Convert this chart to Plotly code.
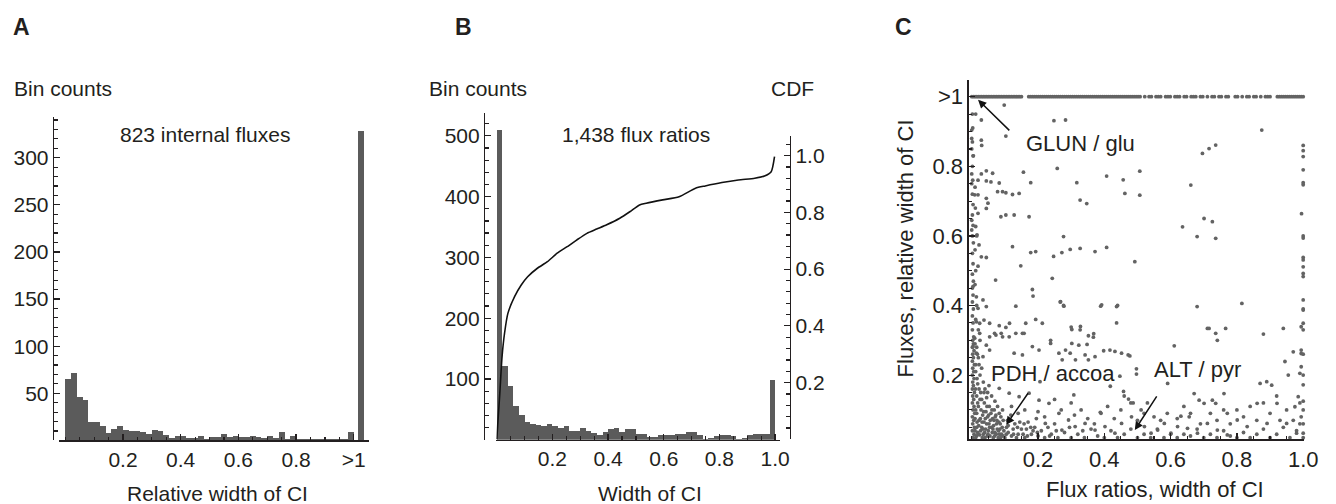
import plotly.graph_objects as go

# ---------------- DATA ----------------
# Panel A: histogram of relative CI widths (bins of 0.02 from 0 to 1) + ">1" bin
A_bin_centers = [round(0.01 + 0.02 * i, 3) for i in range(50)]
A_counts = [65, 71, 46, 43, 20, 20, 15, 8, 12, 15,
            11, 10, 10, 9, 7, 11, 10, 6, 3, 5,
            5, 3, 3, 5, 1, 4, 4, 7, 4, 5,
            4, 4, 5, 4, 3, 5, 3, 9, 1, 5,
            1, 2, 2, 2, 1, 1, 2, 2, 1, 9]
A_over_x = 1.025
A_over_count = 328
A_xticks = [0.2, 0.4, 0.6, 0.8, 1.0]
A_xticktext = ["0.2", "0.4", "0.6", "0.8", ">1"]
A_yticks = [50, 100, 150, 200, 250, 300]

# Panel B: histogram of flux-ratio CI widths + CDF
B_bin_centers = [round(0.01 + 0.02 * i, 3) for i in range(50)]
B_counts = [509, 122, 88, 56, 40, 30, 26, 25, 23, 26,
            22, 20, 22, 15, 15, 20, 14, 11, 8, 12,
            18, 20, 12, 18, 18, 10, 10, 4, 4, 7,
            7, 7, 10, 10, 13, 13, 8, 1, 3, 6,
            7, 8, 6, 2, 3, 8, 10, 10, 10, 98]
B_cdf_x = [0.0, 0.011, 0.019, 0.028, 0.040, 0.064, 0.088, 0.111, 0.146, 0.182,
           0.217, 0.253, 0.288, 0.324, 0.359, 0.395, 0.442, 0.478, 0.513, 0.537,
           0.596, 0.655, 0.714, 0.749, 0.809, 0.868, 0.927, 0.962, 0.986, 0.998]
B_cdf_y = [0.0, 0.163, 0.291, 0.374, 0.444, 0.503, 0.544, 0.573, 0.603, 0.626,
           0.656, 0.679, 0.703, 0.726, 0.741, 0.756, 0.779, 0.802, 0.826, 0.832,
           0.844, 0.855, 0.885, 0.893, 0.905, 0.914, 0.920, 0.928, 0.943, 0.996]
B_xticks = [0.2, 0.4, 0.6, 0.8, 1.0]
B_xticktext = ["0.2", "0.4", "0.6", "0.8", "1.0"]
B_yticks = [100, 200, 300, 400, 500]
B_cdfticks = [0.2, 0.4, 0.6, 0.8, 1.0]
B_cdfticktext = ["0.2", "0.4", "0.6", "0.8", "1.0"]

# Panel C: scatter of flux-ratio CI width (x) vs flux relative CI width (y)
C_top_value = 1.0  # ">1" row
C_top_x = [0.0, 0.005, 0.01, 0.015, 0.02, 0.025, 0.03, 0.035, 0.04, 0.045, 0.05, 0.055,
           0.06, 0.065, 0.07, 0.075, 0.08, 0.085, 0.09, 0.095, 0.1, 0.105, 0.11, 0.115,
           0.12, 0.125, 0.13, 0.135, 0.14, 0.145, 0.15,
           0.172, 0.178, 0.184, 0.19, 0.196, 0.202, 0.208, 0.214, 0.22, 0.226, 0.232,
           0.238, 0.244, 0.25, 0.256, 0.262, 0.268, 0.274, 0.28, 0.286, 0.292, 0.298,
           0.304, 0.31, 0.316, 0.322, 0.328, 0.334, 0.34, 0.346, 0.352, 0.358, 0.364,
           0.37, 0.376, 0.382, 0.388, 0.394, 0.4, 0.406, 0.412, 0.418, 0.424, 0.43,
           0.436, 0.442, 0.448, 0.454, 0.46, 0.466, 0.472, 0.478, 0.484, 0.49, 0.496,
           0.502, 0.508,
           0.522, 0.535, 0.542, 0.556, 0.563, 0.57, 0.585, 0.592, 0.599, 0.613, 0.62,
           0.627, 0.641, 0.648, 0.662, 0.669, 0.676, 0.69, 0.697, 0.711, 0.725, 0.732,
           0.746, 0.753, 0.767, 0.774, 0.795, 0.802, 0.816, 0.83, 0.837, 0.851, 0.858,
           0.872, 0.886, 0.893, 0.9,
           0.922, 0.928, 0.934, 0.94, 0.946, 0.952, 0.958, 0.964, 0.97, 0.976, 0.982,
           0.988, 0.994, 1.0]
C_points = [
    # upper region
    (0.098, 0.976), (0.029, 0.933), (0.0, 0.904), (0.103, 0.887), (0.029, 0.875),
    (0.0, 0.85), (0.03, 0.86), (0.248, 0.931), (0.283, 0.933), (0.875, 0.904),
    (0.696, 0.837), (0.716, 0.851), (0.736, 0.861), (1.0, 0.86), (1.0, 0.845),
    (1.0, 0.828), (0.0, 0.88), (0.005, 0.83), (0.012, 0.95),
    # 0.6 - 0.8
    (0.258, 0.794), (0.044, 0.787), (0.063, 0.78), (0.029, 0.778), (0.156, 0.783),
    (0.407, 0.772), (0.457, 0.761), (0.507, 0.786), (0.0, 0.778), (0.0, 0.75),
    (0.019, 0.76), (0.044, 0.758), (0.058, 0.755), (0.083, 0.752), (0.178, 0.753),
    (0.317, 0.753), (0.462, 0.722), (0.507, 0.717), (0.661, 0.746), (0.009, 0.718),
    (0.019, 0.718), (0.044, 0.708), (0.049, 0.694), (0.078, 0.727), (0.093, 0.727),
    (0.103, 0.724), (0.123, 0.719), (0.143, 0.722), (0.327, 0.703), (0.347, 0.693),
    (1.0, 0.79), (1.0, 0.753), (1.0, 0.747), (0.019, 0.665), (0.044, 0.679),
    (0.088, 0.655), (0.103, 0.66), (0.128, 0.66), (0.173, 0.655), (0.0, 0.645),
    (0.0, 0.617), (0.701, 0.65), (0.726, 0.641), (0.68, 0.598), (0.736, 0.593),
    (0.636, 0.626), (0.995, 0.664), (1.0, 0.6), (1.0, 0.594), (0.277, 0.598),
    (0.297, 0.561), (0.272, 0.552), (0.247, 0.541), (0.327, 0.564), (0.372, 0.555),
    (0.407, 0.567), (0.178, 0.552), (0.193, 0.555), (0.123, 0.569), (0.148, 0.514),
    (0.022, 0.574), (0.029, 0.54), (0.044, 0.538), (0.016, 0.603), (0.012, 0.627),
    (0.492, 0.526), (1.0, 0.538), (1.0, 0.531), (1.0, 0.511), (1.0, 0.492), (1.0, 0.483),
    # 0.3 - 0.5
    (0.072, 0.473), (0.019, 0.513), (0.004, 0.455), (0.014, 0.425), (0.019, 0.392),
    (0.034, 0.416), (0.044, 0.397), (0.183, 0.446), (0.185, 0.427), (0.243, 0.478),
    (0.268, 0.411), (0.278, 0.398), (0.133, 0.398), (0.389, 0.398), (0.437, 0.397),
    (0.68, 0.397), (0.815, 0.406), (1.0, 0.416), (1.0, 0.387), (1.0, 0.349),
    (1.0, 0.33), (0.014, 0.353), (0.024, 0.349), (0.037, 0.358), (0.054, 0.349),
    (0.083, 0.342), (0.103, 0.337), (0.133, 0.32), (0.153, 0.32), (0.163, 0.349),
    (0.193, 0.36), (0.213, 0.349), (0.114, 0.349), (0.238, 0.30), (0.302, 0.331),
    (0.327, 0.33), (0.352, 0.313), (0.367, 0.309), (0.437, 0.35), (0.302, 0.291),
    (0.711, 0.334), (0.716, 0.334), (0.736, 0.32), (0.741, 0.3), (0.766, 0.334),
    (0.88, 0.318), (0.94, 0.334), (0.994, 0.339), (0.611, 0.284), (0.267, 0.41),
    (0.277, 0.40), (0.392, 0.402), (0.44, 0.40), (0.069, 0.32), (0.089, 0.32),
    (0.113, 0.31), (0.158, 0.32), (0.3, 0.338), (0.328, 0.34), (0.368, 0.319),
    (0.323, 0.286), (0.348, 0.288), (0.398, 0.27),
    # 0.2 - 0.3
    (0.054, 0.31), (0.073, 0.315), (0.093, 0.31), (0.054, 0.272), (0.044, 0.286),
    (0.024, 0.32), (0.009, 0.306), (0.004, 0.282), (0.014, 0.263), (0.034, 0.253),
    (0.128, 0.263), (0.153, 0.258), (0.183, 0.282), (0.203, 0.272), (0.238, 0.291),
    (0.263, 0.263), (0.273, 0.244), (0.283, 0.272), (0.297, 0.263), (0.313, 0.244),
    (0.342, 0.258), (0.352, 0.244), (0.372, 0.253), (0.417, 0.272), (0.432, 0.268),
    (0.452, 0.263), (0.472, 0.258), (0.477, 0.255), (0.497, 0.203), (0.447, 0.197),
    (0.87, 0.176), (0.89, 0.181), (0.905, 0.171), (0.945, 0.239), (0.955, 0.2),
    (0.97, 0.267), (0.994, 0.272), (0.994, 0.262), (0.994, 0.224), (0.99, 0.205),
    (1.0, 0.172), (0.591, 0.176), (0.671, 0.147), (0.686, 0.128), (0.701, 0.119),
    (0.726, 0.128), (0.736, 0.119), (0.761, 0.147), (0.771, 0.09), (0.631, 0.082),
    (0.656, 0.08), (0.497, 0.218), (0.206, 0.181), (0.308, 0.143), (0.418, 0.168),
    (0.458, 0.153), (0.473, 0.131), (0.487, 0.12), (0.388, 0.093),
    # lower band 0 - 0.2
    (0.083, 0.162), (0.113, 0.148), (0.143, 0.138), (0.173, 0.148), (0.203, 0.128),
    (0.233, 0.119), (0.263, 0.09), (0.292, 0.071), (0.222, 0.061), (0.272, 0.042),
    (0.312, 0.052), (0.342, 0.061), (0.372, 0.042), (0.402, 0.052), (0.432, 0.033),
    (0.452, 0.061), (0.482, 0.08), (0.511, 0.1), (0.521, 0.052), (0.541, 0.033),
    (0.561, 0.042), (0.581, 0.061), (0.601, 0.033), (0.621, 0.052), (0.651, 0.047),
    (0.681, 0.033), (0.711, 0.061), (0.741, 0.042), (0.771, 0.028), (0.801, 0.071),
    (0.831, 0.052), (0.861, 0.119), (0.891, 0.061), (0.921, 0.119), (0.95, 0.061),
    (0.98, 0.033), (0.994, 0.08), (1.0, 0.033), (0.975, 0.109), (0.985, 0.138),
    (0.12, 0.11), (0.14, 0.09), (0.16, 0.1), (0.2, 0.095), (0.22, 0.08),
    (0.25, 0.13), (0.27, 0.1), (0.3, 0.12), (0.31, 0.085), (0.33, 0.1),
    (0.35, 0.075), (0.37, 0.06), (0.39, 0.09), (0.41, 0.11), (0.43, 0.075),
    (0.45, 0.1), (0.46, 0.14), (0.48, 0.12), (0.5, 0.07), (0.52, 0.09),
    (0.53, 0.12), (0.55, 0.08), (0.57, 0.07), (0.59, 0.09), (0.62, 0.075),
    (0.64, 0.11), (0.66, 0.09), (0.69, 0.06), (0.72, 0.09), (0.74, 0.07),
    (0.76, 0.1), (0.78, 0.06), (0.8, 0.1), (0.82, 0.08), (0.84, 0.11),
    (0.86, 0.07), (0.88, 0.12), (0.9, 0.09), (0.92, 0.14), (0.93, 0.07),
    (0.95, 0.1), (0.97, 0.07), (1.0, 0.02), (1.0, 0.06), (1.0, 0.1),
    (1.0, 0.125), (0.99, 0.12), (1.0, 0.2), (1.0, 0.26), (1.0, 0.39),
    # dense column near x = 0
    (0.003, 0.02), (0.007, 0.03), (0.002, 0.04), (0.008, 0.05), (0.003, 0.06),
    (0.006, 0.07), (0.002, 0.08), (0.009, 0.09), (0.004, 0.10), (0.007, 0.11),
    (0.002, 0.12), (0.006, 0.13), (0.003, 0.14), (0.008, 0.15), (0.002, 0.16),
    (0.005, 0.17), (0.003, 0.18), (0.007, 0.19), (0.002, 0.20), (0.006, 0.21),
    (0.003, 0.22), (0.008, 0.23), (0.002, 0.24), (0.005, 0.25), (0.003, 0.26),
    (0.007, 0.27), (0.002, 0.28), (0.005, 0.29), (0.003, 0.30), (0.006, 0.31),
    (0.002, 0.33), (0.004, 0.35), (0.002, 0.37), (0.005, 0.39), (0.002, 0.41),
    (0.004, 0.43), (0.002, 0.45), (0.005, 0.47), (0.002, 0.49), (0.004, 0.52),
    (0.002, 0.55), (0.005, 0.58), (0.002, 0.60), (0.004, 0.63), (0.002, 0.66),
    (0.004, 0.69), (0.002, 0.72), (0.003, 0.76), (0.002, 0.80), (0.004, 0.83),
    (0.002, 0.87), (0.003, 0.91), (0.002, 0.95),
    (0.01, 0.04), (0.01, 0.075), (0.012, 0.1), (0.018, 0.12), (0.025, 0.13),
    (0.011, 0.16), (0.018, 0.175), (0.027, 0.15), (0.04, 0.16), (0.048, 0.15),
    (0.012, 0.21), (0.022, 0.23), (0.017, 0.26), (0.01, 0.29), (0.02, 0.33),
    (0.012, 0.36), (0.015, 0.4), (0.01, 0.46), (0.012, 0.5), (0.01, 0.56),
    (0.015, 0.6), (0.011, 0.68), (0.01, 0.74),
    # dense cluster near the origin
    (0.012, 0.02), (0.018, 0.035), (0.025, 0.015), (0.03, 0.05), (0.022, 0.07),
    (0.035, 0.03), (0.04, 0.02), (0.045, 0.06), (0.05, 0.04), (0.055, 0.025),
    (0.06, 0.05), (0.065, 0.02), (0.07, 0.035), (0.075, 0.06), (0.08, 0.02),
    (0.085, 0.045), (0.09, 0.03), (0.095, 0.07), (0.1, 0.02), (0.105, 0.05),
    (0.11, 0.035), (0.12, 0.025), (0.13, 0.06), (0.14, 0.03), (0.15, 0.045),
    (0.16, 0.02), (0.17, 0.065), (0.18, 0.03), (0.19, 0.05), (0.2, 0.025),
    (0.015, 0.09), (0.02, 0.11), (0.028, 0.1), (0.033, 0.085), (0.038, 0.12),
    (0.043, 0.095), (0.048, 0.08), (0.053, 0.11), (0.058, 0.09), (0.063, 0.075),
    (0.068, 0.1), (0.073, 0.085), (0.078, 0.11), (0.083, 0.09), (0.088, 0.08),
    (0.093, 0.1), (0.015, 0.14), (0.022, 0.16), (0.03, 0.13), (0.037, 0.15),
    (0.045, 0.135), (0.052, 0.17), (0.06, 0.14), (0.07, 0.125), (0.016, 0.19),
    (0.025, 0.2), (0.035, 0.18), (0.012, 0.23), (0.02, 0.25), (0.03, 0.22),
    (0.015, 0.28), (0.025, 0.3), (0.01, 0.015), (0.015, 0.05), (0.02, 0.03),
    (0.027, 0.04), (0.032, 0.02), (0.037, 0.065), (0.042, 0.045), (0.047, 0.025),
    (0.052, 0.06), (0.057, 0.015), (0.062, 0.035), (0.067, 0.07), (0.072, 0.015),
    (0.077, 0.045), (0.082, 0.065), (0.087, 0.02), (0.092, 0.05), (0.097, 0.04),
    (0.108, 0.07), (0.115, 0.015), (0.125, 0.045), (0.135, 0.02), (0.145, 0.065),
    (0.155, 0.03), (0.165, 0.045), (0.175, 0.015), (0.185, 0.04), (0.195, 0.075),
    (0.008, 0.012), (0.014, 0.025), (0.019, 0.012), (0.024, 0.028), (0.029, 0.01),
    (0.034, 0.045), (0.039, 0.035), (0.044, 0.012), (0.049, 0.03), (0.054, 0.05),
    (0.059, 0.01), (0.064, 0.045), (0.069, 0.025), (0.074, 0.03), (0.079, 0.012),
    (0.084, 0.03), (0.089, 0.012), (0.094, 0.025), (0.099, 0.01), (0.104, 0.03),
    (0.016, 0.065), (0.021, 0.055), (0.026, 0.075), (0.031, 0.065), (0.036, 0.095),
    (0.041, 0.075), (0.046, 0.11), (0.051, 0.085), (0.056, 0.07), (0.061, 0.1),
    (0.066, 0.055), (0.071, 0.08), (0.076, 0.07), (0.081, 0.04), (0.086, 0.06),
    (0.11, 0.055), (0.118, 0.085), (0.126, 0.03), (0.138, 0.05), (0.148, 0.012),
    (0.158, 0.06), (0.168, 0.025), (0.178, 0.05), (0.188, 0.012), (0.198, 0.035),
    (0.215, 0.012), (0.235, 0.025), (0.255, 0.04), (0.275, 0.012), (0.295, 0.05),
    (0.315, 0.012), (0.335, 0.04), (0.355, 0.012),
    (0.21, 0.04), (0.22, 0.02), (0.23, 0.05), (0.24, 0.03), (0.25, 0.06),
    (0.26, 0.02), (0.28, 0.035), (0.3, 0.02), (0.32, 0.03), (0.34, 0.02),
    (0.36, 0.045), (0.38, 0.025), (0.4, 0.02), (0.42, 0.04), (0.44, 0.02),
    (0.46, 0.03), (0.48, 0.045), (0.5, 0.02), (0.52, 0.03), (0.54, 0.02),
    (0.56, 0.045), (0.58, 0.02), (0.6, 0.03), (0.62, 0.02), (0.64, 0.03),
    (0.66, 0.025), (0.68, 0.045), (0.7, 0.02), (0.72, 0.03), (0.74, 0.02),
    (0.76, 0.04), (0.78, 0.025), (0.8, 0.02), (0.82, 0.035), (0.84, 0.02),
    (0.86, 0.03), (0.88, 0.045), (0.9, 0.02), (0.92, 0.03), (0.94, 0.05),
    (0.96, 0.02), (0.98, 0.04), (0.99, 0.06),
]
C_ticks = [0.2, 0.4, 0.6, 0.8, 1.0]
C_xticktext = ["0.2", "0.4", "0.6", "0.8", "1.0"]
C_yticktext = ["0.2", "0.4", "0.6", "0.8", ">1"]

# ---------------- STYLE / LAYOUT ----------------
W, H = 1336, 504
FONT = "Liberation Sans, Arial, Helvetica, sans-serif"
TXT = "#231f20"
BAR = "#5b5b5b"
PT = "#636363"
FS = 21


def px(x):
    return x / W


def py(y):
    return 1 - y / H


fig = go.Figure()

# Panel A bars
fig.add_trace(go.Bar(x=A_bin_centers + [A_over_x], y=A_counts + [A_over_count],
                     width=[0.02] * 50 + [0.018], marker=dict(color=BAR, line=dict(width=0)),
                     xaxis="x", yaxis="y", showlegend=False, hoverinfo="skip"))
# Panel B bars
fig.add_trace(go.Bar(x=B_bin_centers, y=B_counts, width=0.02,
                     marker=dict(color=BAR, line=dict(width=0)),
                     xaxis="x2", yaxis="y2", showlegend=False, hoverinfo="skip"))
# Panel B CDF
fig.add_trace(go.Scatter(x=B_cdf_x, y=B_cdf_y, mode="lines",
                         line=dict(color="#111111", width=1.6, shape="spline", smoothing=0.6),
                         xaxis="x2", yaxis="y3", showlegend=False, hoverinfo="skip"))
# Panel C scatter
fig.add_trace(go.Scatter(x=[p[0] for p in C_points], y=[p[1] for p in C_points], mode="markers",
                         marker=dict(color=PT, size=3.8, line=dict(width=0)),
                         xaxis="x3", yaxis="y4", showlegend=False, cliponaxis=False,
                         hoverinfo="skip"))
fig.add_trace(go.Scatter(x=C_top_x, y=[C_top_value] * len(C_top_x), mode="markers",
                         marker=dict(color=PT, size=3.8, line=dict(width=0)),
                         xaxis="x3", yaxis="y4", showlegend=False, cliponaxis=False,
                         hoverinfo="skip"))

axis_common = dict(showline=True, linecolor=TXT, linewidth=1.3, showgrid=False,
                   zeroline=False, ticks="inside", tickcolor=TXT, tickwidth=1.2,
                   ticklen=6, tickfont=dict(family=FONT, size=FS, color=TXT),
                   tickmode="array", fixedrange=True)

fig.update_layout(
    width=W, height=H, margin=dict(l=0, r=0, t=0, b=0),
    paper_bgcolor="white", plot_bgcolor="rgba(0,0,0,0)",
    bargap=0, barmode="overlay",
    font=dict(family=FONT, size=FS, color=TXT),
    xaxis=dict(axis_common, domain=[px(60), px(373)], range=[-0.0206, 1.0532], anchor="y",
               tickvals=A_xticks, ticktext=A_xticktext,
               minor=dict(ticks="inside", ticklen=3.5, dtick=0.05, tick0=0, tickcolor=TXT)),
    yaxis=dict(axis_common, domain=[py(440.4), py(116.7)], range=[0, 343.5],
               anchor="free", position=px(53.3),
               tickvals=A_yticks, ticktext=[str(v) for v in A_yticks],
               minor=dict(ticks="inside", ticklen=3.5, dtick=10, tick0=0, tickcolor=TXT)),
    xaxis2=dict(axis_common, domain=[px(501.7), px(788.3)], range=[-0.0011, 1.0178], anchor="y2",
                tickvals=B_xticks, ticktext=B_xticktext,
                minor=dict(ticks="inside", ticklen=3.5, dtick=0.05, tick0=0, tickcolor=TXT)),
    yaxis2=dict(axis_common, domain=[py(439.75), py(113.3)], range=[0, 537],
                anchor="free", position=px(489),
                tickvals=B_yticks, ticktext=[str(v) for v in B_yticks],
                minor=dict(ticks="inside", ticklen=3.5, dtick=20, tick0=0, tickcolor=TXT)),
    yaxis3=dict(axis_common, domain=[py(439.4), py(136)], range=[0, 1.069],
                anchor="free", position=px(798.3), side="right",
                tickvals=B_cdfticks, ticktext=B_cdfticktext,
                minor=dict(ticks="inside", ticklen=3.5, dtick=0.04, tick0=0, tickcolor=TXT)),
    xaxis3=dict(axis_common, domain=[px(979), px(1318)], range=[-0.009, 1.003], anchor="y4",
                tickvals=C_ticks, ticktext=C_xticktext,
                tickfont=dict(family=FONT, size=22, color=TXT),
                minor=dict(ticks="inside", ticklen=3.5, dtick=0.05, tick0=0, tickcolor=TXT)),
    yaxis4=dict(axis_common, domain=[py(439.3), py(80)], range=[0.0155, 1.048], anchor="x3",
                tickvals=C_ticks, ticktext=C_yticktext,
                tickfont=dict(family=FONT, size=22, color=TXT),
                minor=dict(ticks="inside", ticklen=3.5, dtick=0.05, tick0=0, tickcolor=TXT)),
)


def label(text, x, y, size=FS, bold=False, angle=0):
    fig.add_annotation(text=f"<b>{text}</b>" if bold else text, x=px(x), y=py(y),
                       xref="paper", yref="paper", xanchor="center", yanchor="middle",
                       showarrow=False, textangle=angle,
                       font=dict(family=FONT, size=size, color=TXT))


label("A", 22, 27, size=23, bold=True)
label("B", 468, 27, size=23, bold=True)
label("C", 913, 27, size=23, bold=True)
label("Bin counts", 64, 88)
label("Bin counts", 483, 88)
label("CDF", 801, 88)
label("823 internal fluxes", 207, 135)
label("1,438 flux ratios", 642.5, 135)
label("Relative width of CI", 220, 493)
label("Width of CI", 657, 493)
label("Flux ratios, width of CI", 1167, 489, size=22)
label("Fluxes, relative width of CI", 915, 248, size=22, angle=-90)
label("GLUN / glu", 1092, 143, size=22)
label("PDH / accoa", 1064, 373, size=22)
label("ALT / pyr", 1210, 369, size=22)

# arrows (head, tail) in panel C data coordinates
for (hx, hy, tx, ty) in [(0.019, 0.991, 0.118, 0.899),
                         (0.104, 0.057, 0.173, 0.152),
                         (0.492, 0.042, 0.561, 0.143)]:
    fig.add_annotation(x=hx, y=hy, ax=tx, ay=ty, xref="x3", yref="y4",
                       axref="x3", ayref="y4", text="", showarrow=True,
                       arrowhead=2, arrowsize=1.1, arrowwidth=1.5, arrowcolor="#111111")

fig.write_html("out.html",
               config={"displayModeBar": False, "staticPlot": True},
               post_script="document.body.style.margin='0';"
                           "document.body.style.padding='0';"
                           "document.documentElement.style.overflow='hidden';")
